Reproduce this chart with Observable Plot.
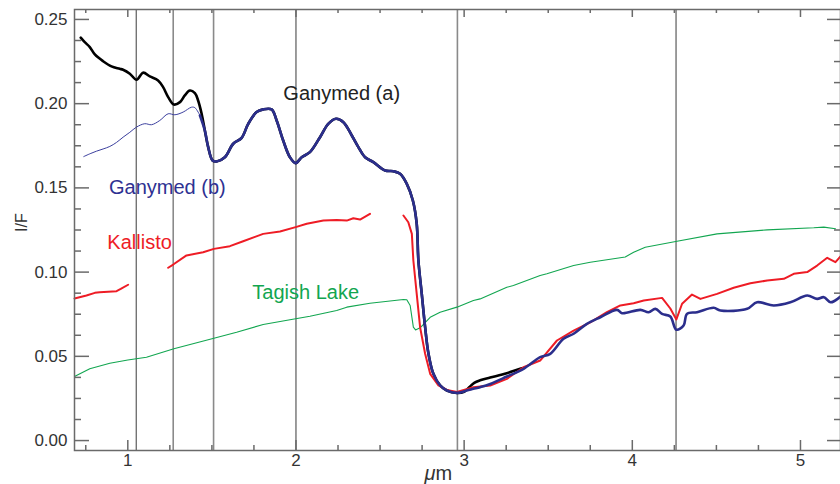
<!DOCTYPE html>
<html>
<head>
<meta charset="utf-8">
<script src="https://cdn.jsdelivr.net/npm/d3@7"></script>
<script src="https://cdn.jsdelivr.net/npm/@observablehq/plot@0.6"></script>
<style>
  body { margin: 0; background: #fff; }
  #chart svg { display: block; }
</style>
</head>
<body>
<div id="chart"></div>
<script>
// Reflectance spectra (I/F) against wavelength (µm)

// Ganymed (a)
const ganymedA_um = [0.720, 0.744, 0.774, 0.804, 0.853, 0.903, 0.952, 0.972, 1.012, 1.052, 1.091, 1.131, 1.180, 1.210, 1.240, 1.274, 1.310, 1.339, 1.369, 1.399, 1.418, 1.439, 1.458, 1.478, 1.504, 1.528, 1.577, 1.627, 1.677, 1.716, 1.766, 1.805, 1.855, 1.885, 1.924, 1.964, 1.998, 2.034, 2.083, 2.143, 2.192, 2.238, 2.282, 2.332, 2.371, 2.411, 2.460, 2.530, 2.579, 2.619, 2.659, 2.695, 2.718, 2.728, 2.748, 2.768, 2.788, 2.817, 2.857, 2.897, 2.957, 3.000, 3.030, 3.060, 3.095, 3.155, 3.254, 3.333, 3.353];
const ganymedA_if = [0.2392, 0.2365, 0.2336, 0.2292, 0.2252, 0.2221, 0.2207, 0.2201, 0.2178, 0.2142, 0.2184, 0.2162, 0.2138, 0.2098, 0.2039, 0.1995, 0.2009, 0.2049, 0.2078, 0.2062, 0.2019, 0.1940, 0.1841, 0.1742, 0.1663, 0.1657, 0.1682, 0.1762, 0.1797, 0.1880, 0.1950, 0.1966, 0.1966, 0.1900, 0.1781, 0.1682, 0.1647, 0.1682, 0.1712, 0.1801, 0.1880, 0.1910, 0.1890, 0.1811, 0.1742, 0.1682, 0.1653, 0.1603, 0.1599, 0.1584, 0.1524, 0.1425, 0.1287, 0.1069, 0.0871, 0.0673, 0.0515, 0.0396, 0.0327, 0.0297, 0.0283, 0.0290, 0.0316, 0.0343, 0.0358, 0.0374, 0.0400, 0.0426, 0.0430];

// Ganymed (b)
const ganymedB_um = [0.738, 0.776, 0.814, 0.853, 0.893, 0.933, 0.972, 1.012, 1.052, 1.101, 1.141, 1.190, 1.240, 1.280, 1.329, 1.379, 1.399, 1.429, 1.458, 1.478, 1.504, 1.528, 1.577, 1.627, 1.677, 1.716, 1.766, 1.805, 1.855, 1.885, 1.924, 1.964, 1.998, 2.034, 2.083, 2.143, 2.192, 2.238, 2.282, 2.332, 2.371, 2.411, 2.460, 2.530, 2.579, 2.619, 2.659, 2.695, 2.718, 2.728, 2.748, 2.768, 2.788, 2.817, 2.857, 2.897, 2.957, 3.016, 3.055, 3.095, 3.155, 3.254, 3.353, 3.452, 3.512, 3.591, 3.651, 3.730, 3.810, 3.909, 3.939, 4.048, 4.097, 4.137, 4.177, 4.226, 4.262, 4.305, 4.325, 4.385, 4.484, 4.524, 4.683, 4.742, 4.841, 4.940, 5.040, 5.099, 5.139, 5.179, 5.238];
const ganymedB_if = [0.1686, 0.1703, 0.1718, 0.1731, 0.1746, 0.1770, 0.1801, 0.1830, 0.1861, 0.1881, 0.1875, 0.1900, 0.1940, 0.1934, 0.1950, 0.1979, 0.1976, 0.1930, 0.1841, 0.1742, 0.1663, 0.1657, 0.1682, 0.1762, 0.1797, 0.1880, 0.1950, 0.1966, 0.1966, 0.1900, 0.1781, 0.1682, 0.1647, 0.1682, 0.1712, 0.1801, 0.1880, 0.1910, 0.1890, 0.1811, 0.1742, 0.1682, 0.1653, 0.1603, 0.1599, 0.1584, 0.1524, 0.1425, 0.1287, 0.1069, 0.0871, 0.0673, 0.0515, 0.0396, 0.0327, 0.0297, 0.0283, 0.0297, 0.0307, 0.0317, 0.0336, 0.0380, 0.0426, 0.0495, 0.0515, 0.0604, 0.0634, 0.0693, 0.0732, 0.0776, 0.0756, 0.0776, 0.0762, 0.0782, 0.0752, 0.0736, 0.0658, 0.0683, 0.0752, 0.0762, 0.0788, 0.0772, 0.0782, 0.0821, 0.0802, 0.0821, 0.0861, 0.0841, 0.0851, 0.0821, 0.0855];

// Kallisto, three separate wavelength segments
const kallisto1_um = [0.683, 0.754, 0.804, 0.833, 0.933, 0.958, 1.002];
const kallisto1_if = [0.0843, 0.0861, 0.0877, 0.0881, 0.0887, 0.0900, 0.0925];
const kallisto2_um = [1.240, 1.270, 1.349, 1.448, 1.512, 1.607, 1.686, 1.805, 1.905, 1.998, 2.064, 2.163, 2.242, 2.302, 2.341, 2.381, 2.440];
const kallisto2_if = [0.1026, 0.1045, 0.1099, 0.1118, 0.1138, 0.1154, 0.1183, 0.1227, 0.1241, 0.1267, 0.1287, 0.1306, 0.1310, 0.1306, 0.1320, 0.1312, 0.1346];
const kallisto3_um = [2.639, 2.668, 2.689, 2.698, 2.718, 2.738, 2.768, 2.798, 2.847, 2.897, 2.957, 3.055, 3.155, 3.254, 3.353, 3.452, 3.552, 3.651, 3.750, 3.849, 3.929, 4.008, 4.068, 4.177, 4.226, 4.262, 4.296, 4.355, 4.405, 4.504, 4.603, 4.702, 4.802, 4.901, 4.960, 5.040, 5.099, 5.159, 5.208, 5.238];
const kallisto3_if = [0.1336, 0.1296, 0.1227, 0.1069, 0.0871, 0.0673, 0.0515, 0.0396, 0.0327, 0.0301, 0.0288, 0.0317, 0.0327, 0.0366, 0.0435, 0.0475, 0.0594, 0.0653, 0.0702, 0.0762, 0.0802, 0.0815, 0.0831, 0.0847, 0.0784, 0.0719, 0.0812, 0.0867, 0.0841, 0.0871, 0.0907, 0.0934, 0.0950, 0.0960, 0.0990, 0.1000, 0.1039, 0.1085, 0.1059, 0.1093];

// Tagish Lake meteorite
const tagish_um = [0.683, 0.774, 0.893, 1.000, 1.111, 1.274, 1.512, 1.647, 1.805, 1.998, 2.083, 2.242, 2.302, 2.440, 2.639, 2.659, 2.679, 2.698, 2.711, 2.738, 2.798, 2.857, 2.957, 3.055, 3.095, 3.254, 3.293, 3.452, 3.492, 3.651, 3.750, 3.958, 4.008, 4.077, 4.266, 4.504, 4.802, 5.079, 5.139, 5.208];
const tagish_if = [0.0380, 0.0426, 0.0459, 0.0478, 0.0495, 0.0545, 0.0607, 0.0643, 0.0689, 0.0723, 0.0738, 0.0772, 0.0792, 0.0815, 0.0837, 0.0836, 0.0802, 0.0673, 0.0657, 0.0669, 0.0732, 0.0762, 0.0792, 0.0831, 0.0841, 0.0910, 0.0920, 0.0980, 0.0990, 0.1039, 0.1059, 0.1090, 0.1118, 0.1148, 0.1183, 0.1227, 0.1251, 0.1263, 0.1267, 0.1257];

// Absorption band positions (µm)
const bandsDark = [1.05, 2.0, 4.26];
const bandsGray = [1.27, 1.51, 2.96];

// Axis ticks
const xMajor = [1, 2, 3, 4, 5];
const xMinor = [0.75, 1.25, 1.5, 1.75, 2.25, 2.5, 2.75, 3.25, 3.5, 3.75, 4.25, 4.5, 4.75];
const yMajor = [0, 0.05, 0.10, 0.15, 0.20, 0.25];
const yMinor = d3.range(1, 21).map(i => i * 0.0125).filter(v => Math.round(v * 1e4) % 500 !== 0);

const toRows = (xs, ys, seg = 0) => xs.map((x, i) => ({x, y: ys[i], seg}));
const ganA = toRows(ganymedA_um, ganymedA_if);
const ganB = toRows(ganymedB_um, ganymedB_if);
const ganBThin = ganB.filter(d => d.x <= 1.43);
const ganBThick = ganB.filter(d => d.x >= 1.429);
const kallisto = [
  ...toRows(kallisto1_um, kallisto1_if, 1),
  ...toRows(kallisto2_um, kallisto2_if, 2),
  ...toRows(kallisto3_um, kallisto3_if, 3)
];
const tagish = toRows(tagish_um, tagish_if);

// frame geometry
const W = 840, H = 484;
const mL = 74, mR = 0, mT = 9, mB = 34;
const frameW = W - mL - mR, frameH = H - mT - mB;

const axisColor = "#6a6a6a";
const textColor = "#333";
const tickStyle = {stroke: axisColor, strokeWidth: 1.5};

// inward tick of a given length on one side of the frame
const ticksX = (values, side, len) => Plot.tickX(values, {
  x: d => d, ...tickStyle,
  ...(side === "bottom" ? {insetTop: frameH - len} : {insetBottom: frameH - len})
});
const ticksY = (values, side, len) => Plot.tickY(values, {
  y: d => d, ...tickStyle,
  ...(side === "left" ? {insetRight: frameW - len} : {insetLeft: frameW - len})
});

const chart = Plot.plot({
  width: W,
  height: H,
  marginLeft: mL,
  marginRight: mR,
  marginTop: mT,
  marginBottom: mB,
  x: {domain: [0.683, 5.238]},
  y: {domain: [-0.0059, 0.2559]},
  style: {fontFamily: "'Liberation Sans', Arial, sans-serif", background: "#fff", overflow: "visible"},
  marks: [
    Plot.ruleX(bandsDark, {x: d => d, stroke: "#3a3a3a", strokeWidth: 1}),
    Plot.ruleX(bandsGray, {x: d => d, stroke: "#8a8a8a", strokeWidth: 1.6}),
    Plot.line(tagish, {x: "x", y: "y", stroke: "#12a650", strokeWidth: 1.1}),
    Plot.line(ganA, {x: "x", y: "y", stroke: "#000", strokeWidth: 2.6, curve: "catmull-rom"}),
    Plot.line(kallisto, {x: "x", y: "y", z: "seg", stroke: "#ee1c25", strokeWidth: 2}),
    Plot.line(ganBThin, {x: "x", y: "y", stroke: "#3b3f9e", strokeWidth: 1, curve: "catmull-rom"}),
    Plot.line(ganBThick, {x: "x", y: "y", stroke: "#2b2e8c", strokeWidth: 2.6, curve: "catmull-rom"}),
    Plot.frame({stroke: axisColor, strokeWidth: 1.5}),

    // inward ticks on all four sides
    ticksX(xMajor, "bottom", 10),
    ticksX(xMinor, "bottom", 5),
    ticksX(xMajor, "top", 8),
    ticksX(xMinor, "top", 4),
    ticksY(yMajor, "left", 15),
    ticksY(yMinor, "left", 7),
    ticksY(yMajor, "right", 13),
    ticksY(yMinor, "right", 6),

    // tick labels
    Plot.axisX(xMajor, {anchor: "bottom", tickSize: 0, tickPadding: 3, label: null, fontSize: 17, fill: textColor, tickFormat: d => String(d)}),
    Plot.axisY(yMajor, {anchor: "left", tickSize: 0, tickPadding: 7, label: null, fontSize: 17, fill: textColor, tickFormat: d3.format(".2f")}),

    // axis titles
    Plot.text(["I/F"], {frameAnchor: "left", dx: -53, dy: 2, rotate: -90, fontSize: 16, fill: textColor}),
    Plot.text(["μ"], {frameAnchor: "bottom", dx: -22, dy: 29, textAnchor: "end", fontSize: 20, fontStyle: "italic", fill: textColor}),
    Plot.text(["m"], {frameAnchor: "bottom", dx: -22, dy: 29, textAnchor: "start", fontSize: 20, fill: textColor}),

    // series labels
    Plot.text(["Ganymed (a)"], {x: 2.272, y: 0.2019, lineAnchor: "bottom", fontSize: 20, fill: "#222"}),
    Plot.text(["Ganymed (b)"], {x: 1.235, y: 0.1465, lineAnchor: "bottom", fontSize: 20, fill: "#2e3192"}),
    Plot.text(["Kallisto"], {x: 1.070, y: 0.1138, lineAnchor: "bottom", fontSize: 20, fill: "#ee1c25"}),
    Plot.text(["Tagish Lake"], {x: 2.058, y: 0.0841, lineAnchor: "bottom", fontSize: 20, fill: "#12a650"})
  ]
});

document.getElementById("chart").append(chart);
</script>
</body>
</html>
